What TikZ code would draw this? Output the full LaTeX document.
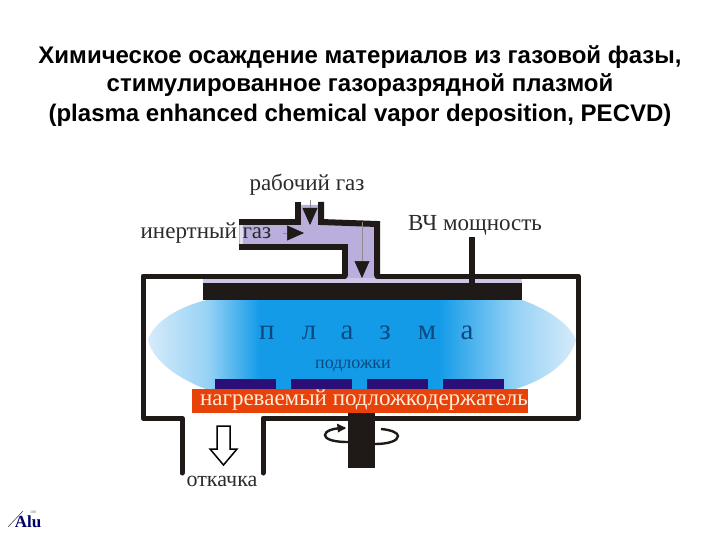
\documentclass[tikz,border=0pt]{standalone}
\usepackage{fontspec}
\setmainfont{Liberation Serif}
\newfontfamily\HeadFont{Liberation Sans}
\usetikzlibrary{arrows.meta}
\definecolor{Ink}{HTML}{1F1A17}
\definecolor{GasFill}{HTML}{B9AEDC}
\definecolor{WaferBlue}{HTML}{2A0F78}
\definecolor{HeaterRed}{HTML}{E8420A}
\definecolor{PlasmaText}{HTML}{0A4A80}
\definecolor{LabelInk}{HTML}{2B2B2B}
\definecolor{PlasmaEdge}{RGB}{215,235,250}
\definecolor{PlasmaMid}{RGB}{150,210,245}
\definecolor{PlasmaCore}{RGB}{20,155,232}
\pgfdeclarehorizontalshading{PlasmaShade}{100bp}{
  color(0bp)=(PlasmaEdge);
  color(25bp)=(PlasmaEdge);
  color(32bp)=(PlasmaMid);
  color(38bp)=(PlasmaCore);
  color(59bp)=(PlasmaCore);
  color(68bp)=(PlasmaMid);
  color(75bp)=(PlasmaEdge);
  color(100bp)=(PlasmaEdge)}
\newcommand{\PlasmaLetter}[2]{%
  \node[font=\fontsize{29}{29}\selectfont,text=PlasmaText] at (#1,333) {#2};%
}
\tikzset{
  wall/.style={line width=5pt,draw=Ink,line join=round,line cap=round},
  pipe/.style={line width=6pt,draw=Ink,line join=miter,line cap=butt},
  label/.style={font=\fontsize{23}{23}\selectfont,text=LabelInk},
  gastip/.style={-{Triangle[length=17pt,width=15pt,color=Ink]},draw=black!45,line width=0.5pt},
}
\begin{document}
\begin{tikzpicture}[x=1pt,y=-1pt]
\useasboundingbox (0,0) rectangle (720,540);
\fill[white] (0,0) rectangle (720,540);
\foreach \y/\s in {57/{Химическое осаждение материалов из газовой фазы,},85/{стимулированное газоразрядной плазмой},115/{(plasma enhanced chemical vapor deposition, PECVD)}} {
  \node[font=\HeadFont\bfseries\fontsize{24}{24}\selectfont] at (360,\y) {\s};
}
\fill[GasFill] (239,224) -- (300,224) -- (300,205) -- (320,205) -- (320,224) -- (375,224) -- (375,283) -- (347,283) -- (347,245) -- (239,245) -- cycle;
\fill[GasFill!70] (203,278) rectangle (522,283);
\fill[GasFill!40] (240,224) rectangle (243,245);
\shade[shading=PlasmaShade] (148,340) .. controls (153,322) and (180,306) .. (207,300) -- (522,300) .. controls (550,310) and (570,325) .. (576,340) .. controls (570,362) and (545,382) .. (505,392) -- (215,392) .. controls (182,382) and (153,362) .. (148,340) -- cycle;
\foreach \x in {215,291,367,443} {
  \fill[WaferBlue] (\x,379) rectangle +(61,10);
}
\fill[HeaterRed] (192,389) rectangle (528,413);
\draw[wall] (345,276) -- (143,276) -- (143,418) -- (182,418) -- (182,473);
\draw[wall] (377,276) -- (578,276) -- (578,418) -- (263,418) -- (263,473);
\draw[pipe] (298,202) -- (298,222) -- (239,222);
\draw[pipe] (321,202) -- (321,222) -- (377,224) -- (377,276);
\draw[pipe] (239,247) -- (345,247) -- (345,276);
\draw[pipe] (472,237) -- (472,283);
\fill[Ink] (203,283) rectangle (522,300);
\fill[Ink] (348,413) rectangle (375,468);
\draw[line width=2.4pt,Ink] (348,442) .. controls (330,442) and (325,438) .. (325,435) .. controls (325,431) and (333,428) .. (345,428);
\fill[Ink] (346,428) -- (337,423.5) -- (338,432.5) -- cycle;
\draw[line width=2.4pt,Ink] (381,429) .. controls (392,430) and (398,433) .. (398,436) .. controls (398,441) and (388,444) .. (375,444);
\draw[line width=1.5pt,fill=white] (217,426) -- (230,426) -- (230,449) -- (237,449) -- (223.5,465) -- (210,449) -- (217,449) -- cycle;
\draw[gastip] (310,200) -- (310,225);
\draw[gastip] (283,233) -- (304,233);
\draw[gastip] (362,222) -- (362,278);
\node[label] at (307,185) {рабочий газ};
\node[label] at (206,233) {инертный газ};
\node[label] at (475,225) {ВЧ мощность};
\node[label,font=\fontsize{22}{22}\selectfont] at (222,481) {откачка};
\foreach \x/\s in {267/п,309/л,347/а,385/з,427/м,467/а} {
  \PlasmaLetter{\x}{\s}
}
\node[font=\fontsize{18}{18}\selectfont,text=PlasmaText] at (353,366) {подложки};
\node[font=\fontsize{23}{23}\selectfont,text=orange!15] at (364,400) {нагреваемый подложкодержатель};
\draw[black!70,line width=0.6pt] (8,527) -- (23,511);
\node[inner sep=0pt,font=\bfseries\fontsize{17}{17}\selectfont,text=blue!40!black] at (28,522) {Аlu};
\node[inner sep=0pt,font=\fontsize{4}{4}\selectfont,text=black!60] at (33,512) {100};
\end{tikzpicture}
\end{document}
